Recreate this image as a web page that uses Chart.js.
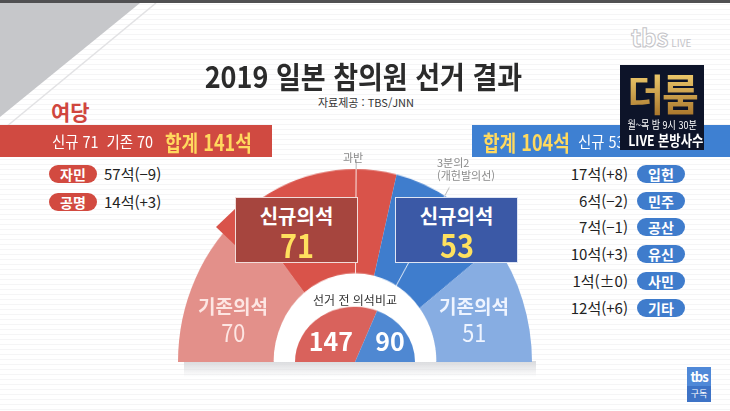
<!DOCTYPE html>
<html lang="ko">
<head>
<meta charset="UTF-8">
<title>2019 일본 참의원 선거 결과</title>
<script src="https://cdn.jsdelivr.net/npm/chart.js"></script>
<style>
  body {
    margin: 0;
    width: 730px;
    height: 411px;
    overflow: hidden;
    position: relative;
    font-family: 'Noto Sans CJK KR', 'Noto Sans', sans-serif;
    background: repeating-linear-gradient(to bottom, #fff 0, #fff 4px, #f5f5f6 4px, #f5f5f6 5px);
  }
  .abs { position: absolute; white-space: nowrap; }
  .cond { display: inline-block; transform-origin: 0 50%; }
  #topbar { left: 0; top: 0; width: 730px; height: 3px; background: #505052; }
  #title {
    left: 0; top: 55px; width: 730px; text-align: center;
    font-size: 30px; font-weight: bold; color: #2b2b2b; line-height: 40px;
  }
  #title span { display: inline-block; transform: scaleX(0.9); margin-left: -4px; }
  #source { left: 318px; top: 95px; font-size: 11px; color: #333; line-height: 14px; }
  #ruling { left: 51px; top: 97px; font-size: 21px; font-weight: bold; color: #d0463e; line-height: 28px; }
  .bar { height: 32px; line-height: 32px; color: #fff; }
  #redbar { left: 0; top: 125px; width: 272px; background: #d04a41; }
  #bluebar { left: 472px; top: 125px; width: 258px; background: #3e80d2; }
  .small { font-size: 16px; }
  .sum { font-size: 22px; font-weight: bold; color: #ffd95e; }
  .pill {
    height: 18px; line-height: 18px; width: 48px; border-radius: 9px;
    color: #fff; font-weight: bold; font-size: 14px; text-align: center;
  }
  .seatTxt { font-size: 15px; color: #222; line-height: 18px; }
  .box {
    width: 121px; height: 64px; border: 1px solid #f2dcd9; text-align: center; color: #fff;
  }
  .box .t { font-size: 20px; font-weight: bold; line-height: 24px; margin-top: 6px; }
  .box .n { font-size: 32px; font-weight: bold; color: #ffe15e; line-height: 32px; display: inline-block; transform: scaleX(0.9); }
  .seg { text-align: center; font-weight: bold; font-size: 19px; line-height: 24px; }
  .seg .num { font-size: 24px; line-height: 28px; font-weight: normal; display: inline-block; transform: scaleX(0.9); }
  .note { font-size: 11px; color: #8a8a8a; line-height: 13px; }
  #logo {
    left: 620px; top: 65px; width: 84px; height: 85px; background: #0d1429; text-align: center; color: #fff;
  }
  #logo .c { display: inline-block; transform: scaleX(0.82); }
</style>
</head>
<body>
<div class="abs" id="topbar"></div>
<svg class="abs" style="left:0;top:3px" width="170" height="130">
  <polygon points="0,0 140,0 0,114" fill="#c6c7ca"/>
  <line x1="156" y1="0" x2="6" y2="124" stroke="#e2e2e4" stroke-width="1.5"/>
</svg>

<div class="abs" style="left:631px;top:24px;font-size:24px;font-weight:bold;color:#fff;-webkit-text-stroke:1px #c4c4c8;letter-spacing:0px;line-height:26px">tbs<span style="font-size:10px;-webkit-text-stroke:0;color:#c4c4c8;font-weight:normal;margin-left:3px">LIVE</span></div>

<div class="abs" id="title"><span>2019 일본 참의원 선거 결과</span></div>
<div class="abs" id="source">자료제공 : TBS/JNN</div>

<div class="abs" id="ruling">여당</div>
<div class="abs bar" id="redbar"><span class="small cond" id="redText" style="margin-left:52px;transform:scaleX(0.9)"></span><span class="sum cond" id="redSum" style="position:absolute;left:165px;transform:scaleX(0.82)"></span></div>
<div class="abs bar" id="bluebar"><span class="sum cond" id="blueSum" style="margin-left:11px;transform:scaleX(0.82)"></span><span class="small cond" id="blueText" style="position:absolute;left:106px;transform:scaleX(0.9)"></span></div>

<div class="abs" id="logo">
  <div style="font-size:40px;font-weight:bold;line-height:44px;margin-top:6px;background:linear-gradient(#f4d272,#a6732a);-webkit-background-clip:text;color:transparent;letter-spacing:-2px;transform:scaleY(1.08)">더룸</div>
  <div style="font-size:11px;line-height:14px;margin-top:2px"><span class="c">월~목 밤 9시 30분</span></div>
  <div style="font-size:15px;font-weight:bold;line-height:18px"><span class="c">LIVE 본방사수</span></div>
</div>

<div id="lists"></div>

<!-- chart layers -->
<div class="abs" style="left:184px;top:361px;width:352px;height:16px;background:linear-gradient(to bottom,#d9dadd,rgba(240,240,242,0))"></div>
<div class="abs" style="left:274px;top:273px;width:162px;height:89px;background:#fff;border-radius:81px 81px 0 0 / 89px 89px 0 0"></div>
<div class="abs" style="left:178px;top:175px;width:354px;height:187px;transform:scaleY(1.09);transform-origin:50% 100%">
  <canvas id="outerChart" width="354" height="187"></canvas>
</div>
<div class="abs" style="left:295px;top:302px;width:120px;height:60px;transform:scaleY(0.92);transform-origin:50% 100%">
  <canvas id="innerChart" width="120" height="60"></canvas>
</div>

<div class="abs note" style="left:343px;top:151px">과반</div>
<div class="abs note" style="left:437px;top:156px">3분의2<br>(개헌발의선)</div>

<div class="abs" style="left:216px;top:208px;width:0;height:0;border-top:19px solid transparent;border-bottom:19px solid transparent;border-right:20px solid #d9534a"></div>
<div class="abs box" style="left:235px;top:197px;background:#a6453e"><div class="t">신규의석</div><span class="n" id="redNew"></span></div>
<div class="abs box" style="left:395px;top:197px;background:#3b59a6;border-color:#dfe6f4"><div class="t">신규의석</div><span class="n" id="blueNew"></span></div>

<div class="abs seg" style="left:193px;top:294px;width:80px;color:#fde6e3"><div>기존의석</div><span class="num" id="redOld"></span></div>
<div class="abs seg" style="left:434px;top:294px;width:80px;color:#eef4ff"><div>기존의석</div><span class="num" id="blueOld"></span></div>

<div class="abs" style="left:305px;top:292px;width:100px;text-align:center;font-size:12px;color:#333;line-height:16px">선거 전 의석비교</div>
<div class="abs" id="redBefore" style="left:305px;top:326px;width:52px;text-align:center;font-size:25px;font-weight:bold;color:#fff;line-height:28px"></div>
<div class="abs" id="blueBefore" style="left:365px;top:326px;width:50px;text-align:center;font-size:25px;font-weight:bold;color:#fff;line-height:28px"></div>

<div class="abs" style="left:687px;top:367px;width:24px;height:35px;text-align:center;color:#fff">
  <div style="background:#5089d8;height:19px;line-height:19px;font-size:13px;font-weight:bold;letter-spacing:-1px">tbs</div>
  <div style="background:#3e73c6;height:16px;line-height:16px;font-size:9px">구독</div>
</div>

<script>
  // outer ring: after the election (ruling existing, ruling new, opposition new, opposition existing)
  const outerLabels = ['여당 기존의석', '여당 신규의석', '야당 신규의석', '야당 기존의석'];
  const outerSeats = [70, 71, 53, 51];
  const outerColors = ['#e3908a', '#d9534a', '#3f7dcd', '#87ade2'];

  // inner half pie: seats before the election
  const beforeLabels = ['여당', '야당'];
  const beforeSeats = [147, 90];
  const beforeColors = ['#d9625c', '#4f88d2'];

  // reference lines (과반, 3분의2)
  const thresholdSeats = [123, 164];

  const rulingParties = ['자민', '공명'];
  const rulingSeats = [57, 14];
  const rulingChange = ['−9', '+3'];

  const oppParties = ['입헌', '민주', '공산', '유신', '사민', '기타'];
  const oppSeats = [17, 6, 7, 10, 1, 12];
  const oppChange = ['+8', '−2', '−1', '+3', '±0', '+6'];

  // header / box texts
  document.getElementById('redText').textContent = '신규 ' + outerSeats[1] + '\u00a0\u00a0기존 ' + outerSeats[0];
  document.getElementById('redSum').textContent = '합계 ' + (outerSeats[0] + outerSeats[1]) + '석';
  document.getElementById('blueSum').textContent = '합계 ' + (outerSeats[2] + outerSeats[3]) + '석';
  document.getElementById('blueText').textContent = '신규 ' + outerSeats[2] + '\u00a0\u00a0기존 ' + outerSeats[3];
  document.getElementById('redNew').textContent = outerSeats[1];
  document.getElementById('blueNew').textContent = outerSeats[2];
  document.getElementById('redOld').textContent = outerSeats[0];
  document.getElementById('blueOld').textContent = outerSeats[3];
  document.getElementById('redBefore').textContent = beforeSeats[0];
  document.getElementById('blueBefore').textContent = beforeSeats[1];

  let html = '';
  rulingParties.forEach((p, i) => {
    const y = 165 + i * 28;
    html += `<div class="abs pill" style="left:49px;top:${y}px;background:#d24a40">${p}</div>`;
    html += `<div class="abs seatTxt" style="left:104px;top:${y}px">${rulingSeats[i]}석(${rulingChange[i]})</div>`;
  });
  oppParties.forEach((p, i) => {
    const y = 165 + i * 26.7;
    html += `<div class="abs seatTxt" style="left:538px;top:${y}px;width:90px;text-align:right">${oppSeats[i]}석(${oppChange[i]})</div>`;
    html += `<div class="abs pill" style="left:637px;top:${y}px;background:#3f7ccc">${p}</div>`;
  });
  document.getElementById('lists').innerHTML = html;

  const thresholdLines = {
    id: 'thresholdLines',
    afterDatasetsDraw(chart) {
      const arc = chart.getDatasetMeta(0).data[0];
      const total = outerSeats.reduce((a, b) => a + b, 0);
      const ctx = chart.ctx;
      ctx.save();
      ctx.lineWidth = 1;
      thresholdSeats.forEach(s => {
        const a = Math.PI * (-1 + s / total);
        const c = Math.cos(a), sn = Math.sin(a);
        ctx.strokeStyle = 'rgba(255,255,255,0.85)';
        ctx.beginPath();
        ctx.moveTo(arc.x + c * arc.innerRadius, arc.y + sn * arc.innerRadius);
        ctx.lineTo(arc.x + c * arc.outerRadius, arc.y + sn * arc.outerRadius);
        ctx.stroke();
        ctx.strokeStyle = '#b8b8b8';
        ctx.beginPath();
        ctx.moveTo(arc.x + c * arc.outerRadius, arc.y + sn * arc.outerRadius);
        ctx.lineTo(arc.x + c * (arc.outerRadius + 9), arc.y + sn * (arc.outerRadius + 9));
        ctx.stroke();
      });
      ctx.restore();
    }
  };

  new Chart(document.getElementById('outerChart'), {
    type: 'doughnut',
    data: {
      labels: outerLabels,
      datasets: [{ data: outerSeats, backgroundColor: outerColors, borderWidth: 0 }]
    },
    options: {
      responsive: false,
      animation: false,
      rotation: -90,
      circumference: 180,
      cutout: '46%',
      layout: { padding: { top: 10 } },
      plugins: { legend: { display: false }, tooltip: { enabled: false } },
      events: []
    },
    plugins: [thresholdLines]
  });

  new Chart(document.getElementById('innerChart'), {
    type: 'pie',
    data: {
      labels: beforeLabels,
      datasets: [{ data: beforeSeats, backgroundColor: beforeColors, borderWidth: 0 }]
    },
    options: {
      responsive: false,
      animation: false,
      rotation: -90,
      circumference: 180,
      plugins: { legend: { display: false }, tooltip: { enabled: false } },
      events: []
    }
  });
</script>
</body>
</html>
